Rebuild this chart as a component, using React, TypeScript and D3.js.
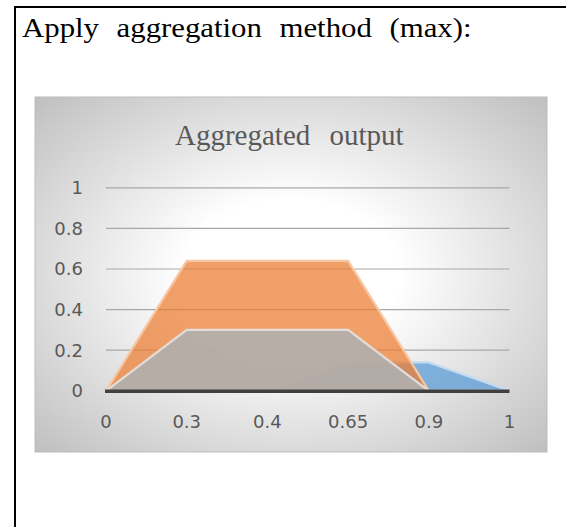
import React from "react";
import * as d3 from "d3";

const categories = ["0", "0.3", "0.4", "0.65", "0.9", "1"];
const blueValues = [0, 0, 0, 0.14, 0.14, 0];
const orangeValues = [0, 0.64, 0.64, 0.64, 0, 0];
const grayValues = [0, 0.3, 0.3, 0.3, 0, 0];
const yTicks = [0, 0.2, 0.4, 0.6, 0.8, 1];
const headerText = "Apply aggregation method (max):";
const chartTitle = "Aggregated output";

export default function App() {
  const W = 566, H = 527;
  const panel = { x: 35, y: 97, w: 512, h: 355 };
  const x = d3.scalePoint<string>().domain(categories).range([106, 509.5]);
  const y = d3.scaleLinear().domain([0, 1]).range([390.8, 187.8]);

  const area = d3.area<number>()
    .x((_, i) => x(categories[i]) as number)
    .y0(y(0))
    .y1((d) => y(d));
  const line = d3.line<number>()
    .x((_, i) => x(categories[i]) as number)
    .y((d) => y(d));

  const series = [
    { vals: blueValues, fill: "#5B9BD5", op: 0.75, edge: "#c2dbf2" },
    { vals: orangeValues, fill: "#ED7D31", op: 0.73, edge: "#f7c7a4" },
    { vals: grayValues, fill: "#afafaf", op: 0.89, edge: "#e2ddd9" },
  ];

  return (
    <svg width={W} height={H} style={{ position: "absolute", left: 0, top: 0 }}>
      <defs>
        <radialGradient id="bg" cx="50%" cy="50%" r="70%" gradientUnits="objectBoundingBox">
          <stop offset="0" stopColor="#ffffff" />
          <stop offset="0.3" stopColor="#ffffff" />
          <stop offset="1" stopColor="#c0c0c0" />
        </radialGradient>
        <filter id="glow" x="-5%" y="-5%" width="110%" height="110%">
          <feGaussianBlur stdDeviation="0.6" />
        </filter>
      </defs>
      <rect x={0} y={0} width={W} height={H} fill="#ffffff" />
      <rect x={14} y={6} width={W - 14} height={2} fill="#000" />
      <rect x={14} y={6} width={2} height={H - 6} fill="#000" />
      <text transform="translate(22,37) scale(1.1,1)" x={0} y={0}
        fontFamily="'Liberation Serif', serif" fontSize={28} fill="#000"
        style={{ wordSpacing: "9px" }}>
        {headerText}
      </text>

      <rect x={panel.x} y={panel.y} width={panel.w} height={panel.h} fill="url(#bg)" stroke="#bdbdbd" strokeWidth={1} />

      <text x={175} y={145} fontFamily="'Liberation Serif', serif" fontSize={29} fill="#595959"
        style={{ wordSpacing: "12px" }}>
        {chartTitle}
      </text>

      {yTicks.filter((t) => t > 0).map((t) => (
        <line key={"g" + t} x1={x(categories[0])} x2={x(categories[categories.length - 1])}
          y1={y(t)} y2={y(t)} stroke="#a8a8a8" strokeWidth={1.2} />
      ))}

      {series.map((s, i) => (
        <g key={i}>
          <path d={area(s.vals) as string} fill={s.fill} fillOpacity={s.op} />
          <path d={line(s.vals) as string} fill="none" stroke={s.edge} strokeWidth={2.2} filter="url(#glow)" />
        </g>
      ))}

      <line x1={x(categories[0])! - 1} x2={x(categories[categories.length - 1])} y1={y(0) + 0.5} y2={y(0) + 0.5}
        stroke="#404040" strokeWidth={3.6} />

      {yTicks.map((t) => (
        <text key={"yl" + t} x={83} y={y(t)} dy="0.36em" textAnchor="end"
          fontFamily="'DejaVu Sans', sans-serif" fontSize={18} fill="#595959">
          {String(t)}
        </text>
      ))}
      {categories.map((c) => (
        <text key={"xl" + c} x={x(c)} y={428} textAnchor="middle"
          fontFamily="'DejaVu Sans', sans-serif" fontSize={18} fill="#595959">
          {c}
        </text>
      ))}
    </svg>
  );
}
